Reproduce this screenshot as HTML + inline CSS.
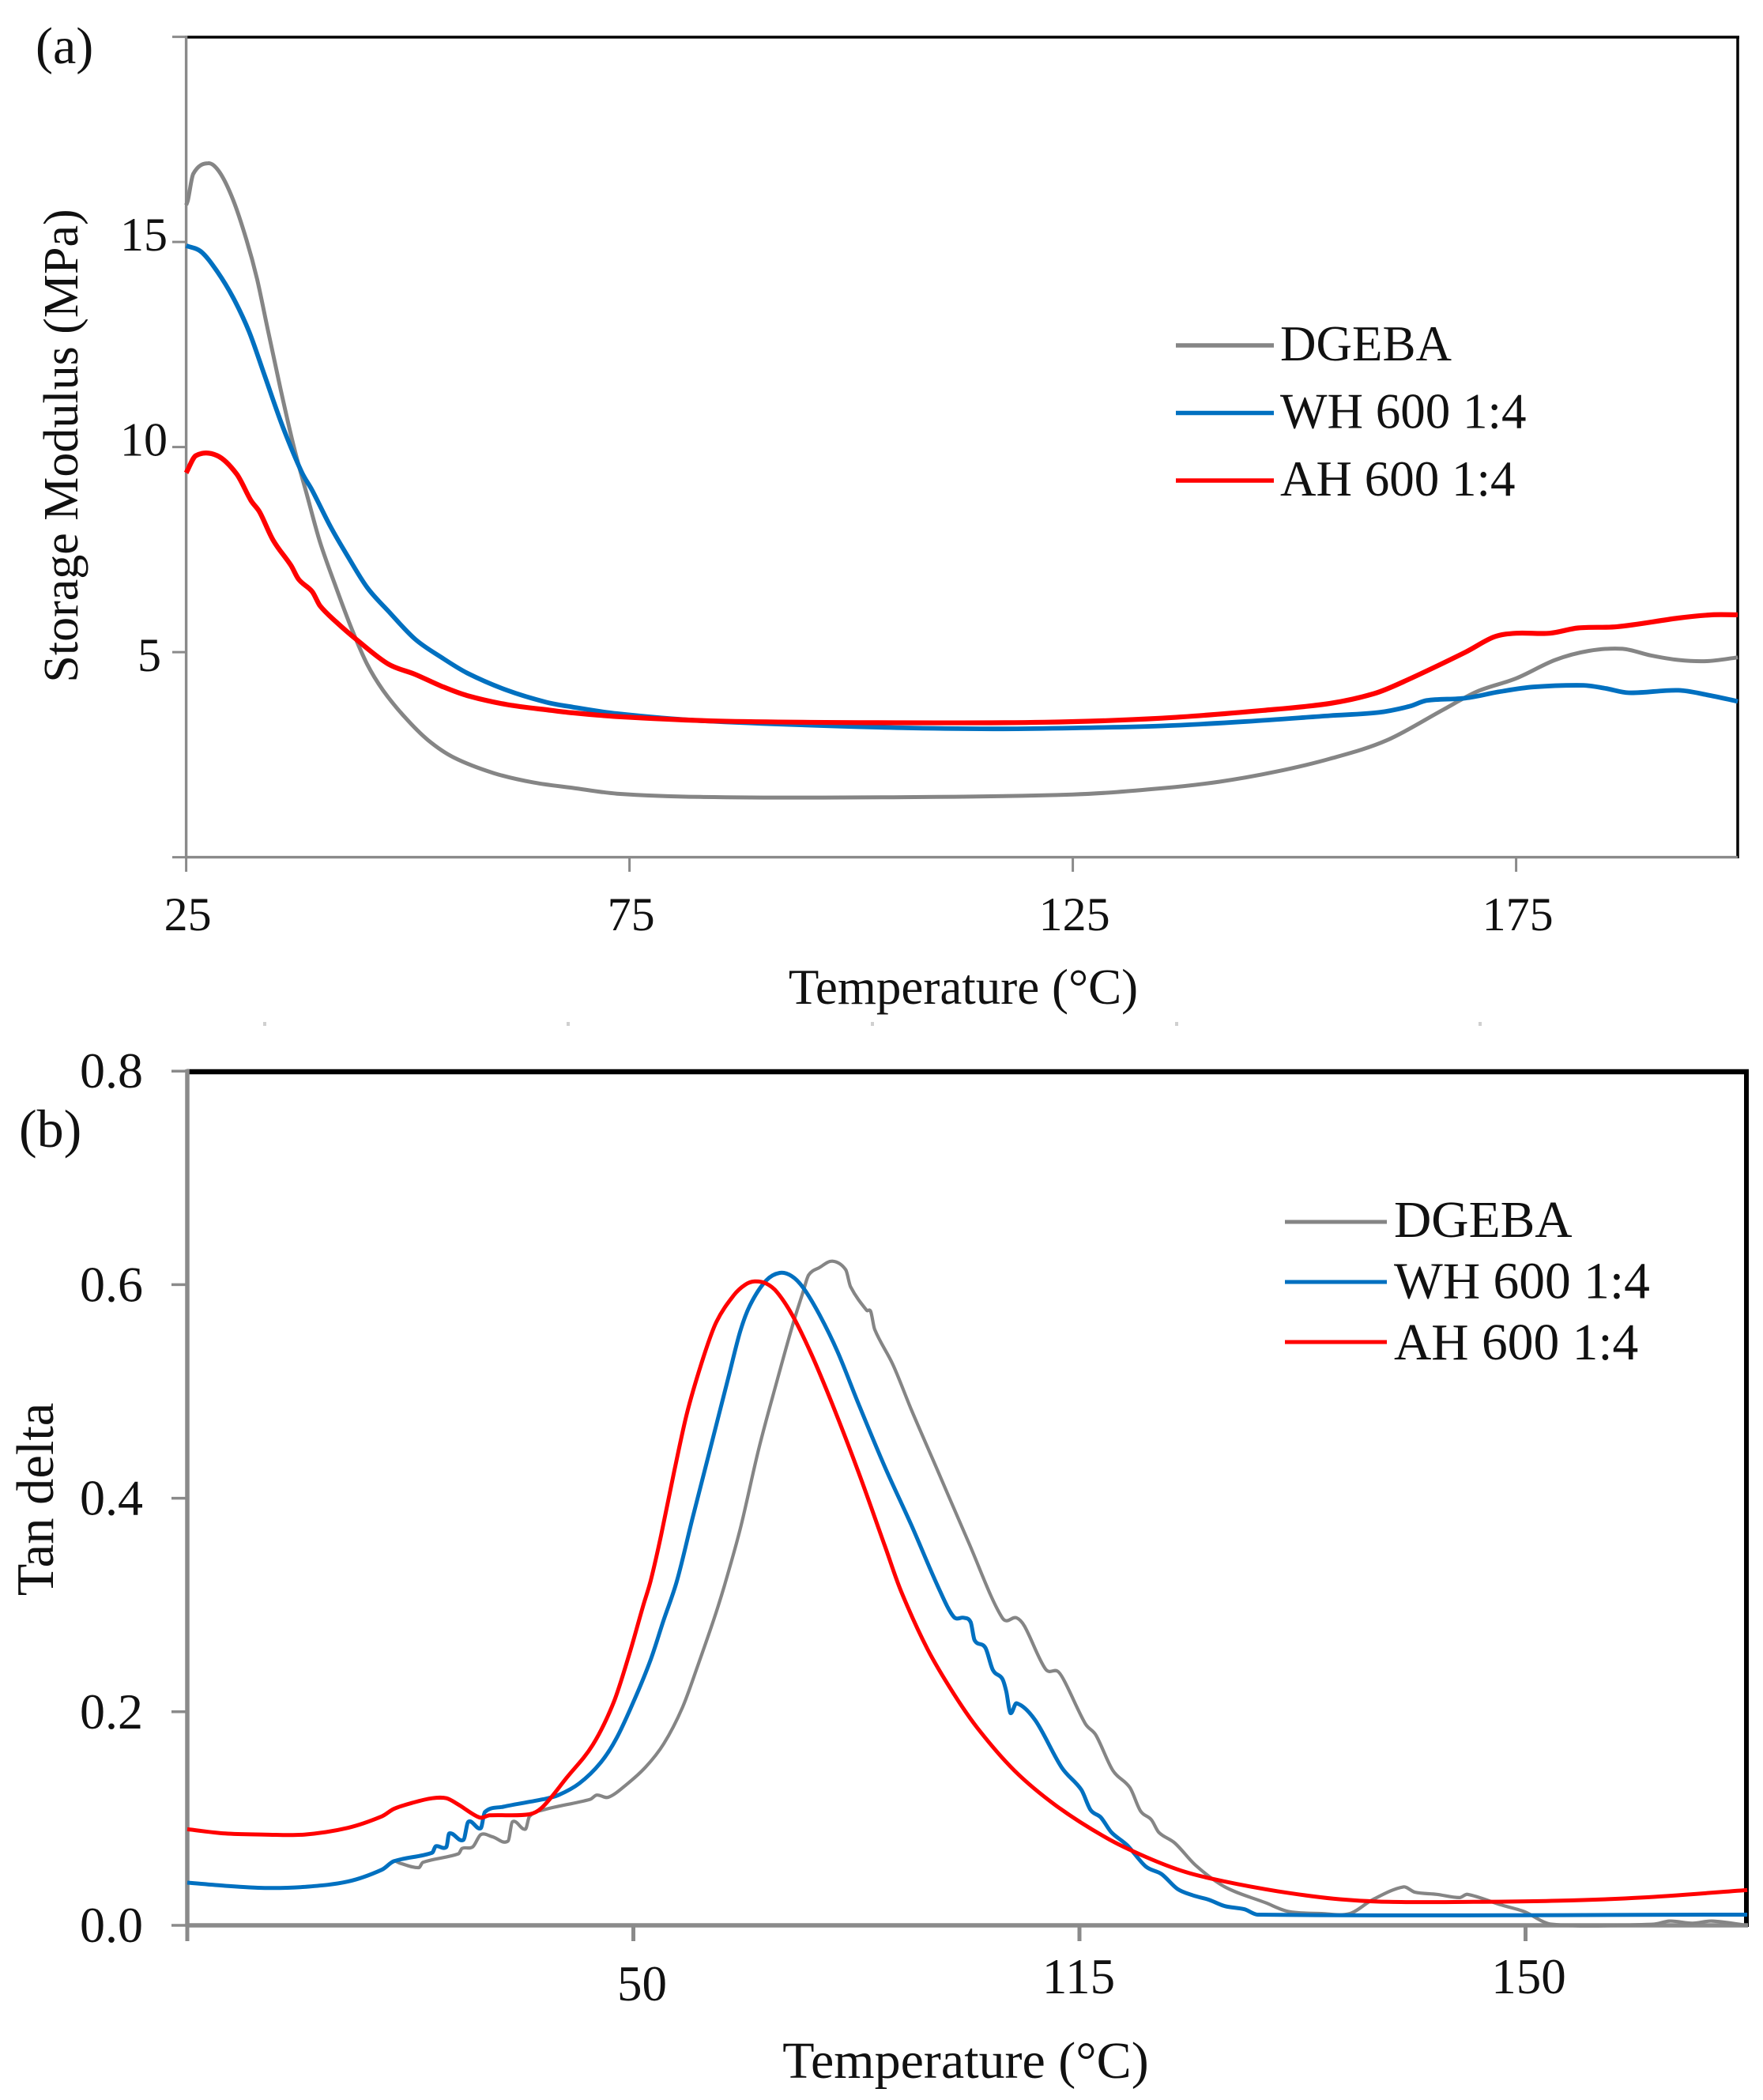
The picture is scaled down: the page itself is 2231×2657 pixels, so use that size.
<!DOCTYPE html>
<html lang="en">
<head>
<meta charset="utf-8">
<title>Storage modulus and tan delta vs temperature</title>
<style>
html,body{margin:0;padding:0;background:#fff;width:2231px;height:2657px;overflow:hidden}
svg{display:block}
text{font-family:"Liberation Serif",serif;fill:#111}
</style>
</head>
<body>
<svg id="figure" xmlns="http://www.w3.org/2000/svg" width="2231" height="2657" viewBox="0 0 2231 2657">
  <g id="panel-a"></g>
  <g id="panel-b"></g>
</svg>
<script>
/* Panel (a): storage modulus */
const aGreyT = [25,25.2,25.8,27.5,28.8,30.3,31.8,33,34.2,35.6,37.1,38.6,40.1,41.9,43.7,45.4,47.2,49.6,52.3,55.2,59.7,64.2,68.6,73.6,83,103.5,125,135,141.5,147.8,154,160.4,166.8,170.6,175,179.4,183.2,187,190.2,193.3,196.5,200];
const aGreyV = [15.9,16.02,16.66,16.92,16.69,16.02,15.05,14.09,12.87,11.46,10.04,8.85,7.68,6.58,5.55,4.71,4.07,3.43,2.85,2.43,2.05,1.82,1.69,1.55,1.47,1.46,1.53,1.68,1.84,2.08,2.4,2.85,3.6,4.04,4.36,4.81,5.03,5.08,4.92,4.81,4.78,4.87];
const aBlueT = [25,26.7,28.5,30.3,32.1,33.9,35.9,38,39.2,41.3,43.1,45.4,47.8,50.8,53.8,56.7,61.2,65.6,68.6,73.6,83,103,116,125,135,144.6,154,159.5,163,164.9,169.3,173,176.9,182.6,185,187.7,193.3,196.5,200];
const aBlueV = [14.91,14.76,14.28,13.64,12.81,11.71,10.49,9.4,8.95,8.05,7.38,6.58,6,5.32,4.87,4.49,4.07,3.78,3.66,3.5,3.33,3.17,3.13,3.15,3.2,3.31,3.45,3.53,3.68,3.82,3.88,4.03,4.15,4.19,4.12,4.01,4.07,3.96,3.8];
const aRedT = [25,26.1,28.5,30.7,32.3,33.3,34.8,36.8,37.7,39.2,40.1,41.9,44.3,47.8,50.8,53.8,56.7,61.2,66.2,68.6,73.6,85,103,121.8,135,146.5,154,159,162.3,169.3,172.5,175,178.8,182,186.4,193.3,197.1,200];
const aRedV = [9.37,9.79,9.79,9.34,8.7,8.41,7.73,7.12,6.77,6.48,6.13,5.74,5.29,4.71,4.46,4.17,3.94,3.72,3.58,3.52,3.43,3.32,3.28,3.29,3.39,3.58,3.75,3.99,4.28,5,5.37,5.46,5.46,5.59,5.62,5.83,5.91,5.91];
const aXTicks = [25,75,125,175];
const aYTicks = [5,10,15];
const aYMarks = [0,5,10,15,20];

/* Panel (b): tan delta. X is the axis slot (0 = left edge, 1 = "50", 2 = "115", 3 = "150"), as the printed labels are unevenly spaced */
const bGreyX = [0,0.085,0.174,0.262,0.36,0.436,0.463,0.478,0.519,0.528,0.608,0.616,0.64,0.658,0.684,0.719,0.729,0.758,0.767,0.797,0.903,0.918,0.944,0.985,1.027,1.068,1.11,1.145,1.18,1.204,1.24,1.281,1.322,1.357,1.381,1.393,1.417,1.446,1.476,1.487,1.523,1.532,1.541,1.582,1.623,1.682,1.75,1.827,1.859,1.877,1.924,1.951,1.966,2.013,2.037,2.075,2.113,2.137,2.161,2.178,2.214,2.261,2.326,2.418,2.468,2.543,2.606,2.657,2.726,2.752,2.801,2.852,2.87,2.946,2.996,3.059,3.285,3.323,3.374,3.418,3.497];
const bGreyV = [0.04,0.037,0.035,0.036,0.041,0.052,0.06,0.058,0.054,0.059,0.067,0.072,0.0735,0.085,0.083,0.079,0.097,0.09,0.102,0.108,0.118,0.122,0.12,0.132,0.148,0.17,0.204,0.244,0.286,0.318,0.372,0.446,0.51,0.562,0.594,0.609,0.616,0.622,0.614,0.598,0.576,0.575,0.558,0.525,0.483,0.426,0.36,0.288,0.288,0.28,0.24,0.238,0.229,0.189,0.178,0.145,0.129,0.107,0.099,0.087,0.077,0.056,0.036,0.021,0.013,0.011,0.011,0.024,0.036,0.031,0.029,0.026,0.029,0.019,0.013,0.001,0.001,0.004,0.002,0.004,0];
const bBlueX = [0,0.085,0.174,0.262,0.36,0.436,0.463,0.549,0.557,0.581,0.587,0.619,0.63,0.658,0.667,0.708,0.797,0.832,0.879,0.926,0.962,1.003,1.039,1.068,1.098,1.133,1.174,1.216,1.24,1.263,1.298,1.328,1.355,1.381,1.417,1.458,1.505,1.564,1.623,1.682,1.718,1.741,1.756,1.765,1.789,1.806,1.827,1.836,1.845,1.859,1.901,1.96,2.004,2.025,2.048,2.072,2.107,2.149,2.184,2.22,2.255,2.29,2.326,2.37,2.4,3.497];
const bBlueV = [0.04,0.037,0.035,0.036,0.041,0.052,0.06,0.068,0.074,0.0735,0.086,0.08,0.097,0.091,0.106,0.111,0.118,0.122,0.133,0.152,0.175,0.212,0.249,0.286,0.323,0.382,0.449,0.518,0.557,0.582,0.604,0.611,0.608,0.597,0.572,0.537,0.488,0.429,0.375,0.318,0.289,0.288,0.284,0.267,0.26,0.239,0.231,0.219,0.199,0.208,0.192,0.148,0.127,0.108,0.101,0.087,0.075,0.055,0.048,0.034,0.028,0.024,0.018,0.015,0.01,0.01];
const bRedX = [0,0.085,0.174,0.262,0.36,0.436,0.463,0.507,0.549,0.581,0.608,0.655,0.678,0.767,0.797,0.85,0.909,0.956,0.991,1.021,1.039,1.062,1.092,1.121,1.157,1.186,1.225,1.251,1.272,1.298,1.322,1.357,1.399,1.446,1.505,1.564,1.6,1.659,1.718,1.771,1.854,1.948,2.06,2.149,2.237,2.326,2.443,2.569,2.694,2.883,3.072,3.26,3.497];
const bRedV = [0.09,0.086,0.085,0.085,0.0913,0.102,0.109,0.115,0.119,0.119,0.113,0.101,0.103,0.104,0.111,0.138,0.169,0.209,0.254,0.298,0.323,0.365,0.426,0.481,0.532,0.565,0.59,0.6,0.603,0.601,0.593,0.571,0.535,0.488,0.424,0.355,0.313,0.259,0.217,0.185,0.145,0.112,0.082,0.064,0.05,0.041,0.032,0.025,0.022,0.022,0.023,0.026,0.033];
const bXSlots = [0,1,2,3];
const bXLabels = ["","50","115","150"];
const bYTicks = [0,0.2,0.4,0.6,0.8];

const legendNames = ["DGEBA","WH 600 1:4","AH 600 1:4"];
const seriesColors = ["#858585","#0070c0","#ff0000"];

const NS = "http://www.w3.org/2000/svg";
function mk(parent, tag, attrs, txt){
  const el = document.createElementNS(NS, tag);
  for (const k in attrs) el.setAttribute(k, attrs[k]);
  if (txt !== undefined) el.textContent = txt;
  parent.appendChild(el);
  return el;
}
/* smooth curve through the data points using finite-difference slopes */
function pathFrom(xs, ys, fx, fy){
  const X = xs.map(fx), Y = ys.map(fy), n = X.length;
  const slope = i => {
    const a = Math.max(i - 1, 0), b = Math.min(i + 1, n - 1);
    return (Y[b] - Y[a]) / (X[b] - X[a]);
  };
  let d = "M" + X[0].toFixed(1) + " " + Y[0].toFixed(1);
  for (let i = 0; i < n - 1; i++) {
    const h = (X[i + 1] - X[i]) / 3;
    d += "C" + (X[i] + h).toFixed(1) + " " + (Y[i] + slope(i) * h).toFixed(1) + " " +
         (X[i + 1] - h).toFixed(1) + " " + (Y[i + 1] - slope(i + 1) * h).toFixed(1) + " " +
         X[i + 1].toFixed(1) + " " + Y[i + 1].toFixed(1);
  }
  return d;
}

/* ---------- panel a ---------- */
const pa = document.getElementById("panel-a");
const ax = t => 235.6 + (t - 25) * 11.22;
const ay = v => 1084.6 - v * 51.9;

let el;
el = mk(pa, "line", {x1:234,y1:47,x2:2201,y2:47,stroke:"#000","stroke-width":3.5});


el = mk(pa, "line", {x1:2199,y1:47,x2:2199,y2:1086,stroke:"#000","stroke-width":3.5});


el = mk(pa, "line", {x1:235.6,y1:45,x2:235.6,y2:1086,stroke:"#8a8a8a","stroke-width":3.4});


el = mk(pa, "line", {x1:234,y1:1084.6,x2:2199,y2:1084.6,stroke:"#8a8a8a","stroke-width":3.4});



aYMarks.forEach(v => {
  const t = mk(pa, "line", {x1:218,y1:ay(v),x2:235,y2:ay(v),stroke:"#8a8a8a","stroke-width":3});
  
  
});
aYTicks.forEach(v => {
  const t = mk(pa, "text", {x: v === 5 ? 204 : 212, y: ay(v) + (v === 5 ? 24 : 11), "text-anchor":"end","font-size":60}, String(v));
  
  
});
aXTicks.forEach(v => {
  const m = mk(pa, "line", {x1:ax(v),y1:1085,x2:ax(v),y2:1103,stroke:"#8a8a8a","stroke-width":3});
  
  
  const t = mk(pa, "text", {x:ax(v)+2,y:1177,"text-anchor":"middle","font-size":60}, String(v));
  
  
});

[[aGreyT,aGreyV],[aBlueT,aBlueV],[aRedT,aRedV]].forEach((s, i) => {
  const p = mk(pa, "path", {d:pathFrom(s[0], s[1], ax, ay),fill:"none",stroke:seriesColors[i],"stroke-width":[5,5.8,6.2][i],"stroke-linejoin":"round","stroke-linecap":"butt"});
  
  
});

el = mk(pa, "text", {x:45,y:80,"font-size":66}, "(a)");


el = mk(pa, "text", {x:0,y:0,"font-size":62,"text-anchor":"middle",transform:"translate(98 564) rotate(-90)"}, "Storage Modulus (MPa)");


el = mk(pa, "text", {x:1219,y:1270,"font-size":63,"text-anchor":"middle"}, "Temperature (°C)");



legendNames.forEach((name, i) => {
  const ly = 437 + i * 85.5;
  const l = mk(pa, "line", {x1:1488,y1:ly,x2:1612,y2:ly,stroke:seriesColors[i],"stroke-width":5.5});
  
  
  const t = mk(pa, "text", {x:1620,y:ly+19,"font-size":63}, name);
  
  
});

[335,719,1104,1489,1873].forEach(x => {
  const s = mk(pa, "rect", {x:x-2,y:1293,width:4,height:5,fill:"#d0d0d0"});
  
  
});

/* ---------- panel b ---------- */
const pb = document.getElementById("panel-b");
const bx = u => 237 + u * 564.5;
const by = v => 2436 - v * 1351;

el = mk(pb, "line", {x1:236,y1:1356,x2:2213,y2:1356,stroke:"#000","stroke-width":6.5});


el = mk(pb, "line", {x1:2210,y1:1354,x2:2210,y2:2438,stroke:"#000","stroke-width":6});


el = mk(pb, "line", {x1:237,y1:1353,x2:237,y2:2438,stroke:"#8a8a8a","stroke-width":5.5});


el = mk(pb, "line", {x1:235,y1:2436,x2:2212,y2:2436,stroke:"#8a8a8a","stroke-width":5.5});



bYTicks.forEach(v => {
  const m = mk(pb, "line", {x1:217,y1:by(v),x2:236,y2:by(v),stroke:"#8a8a8a","stroke-width":3.5});
  
  
  const t = mk(pb, "text", {x:181,y:by(v)+21,"text-anchor":"end","font-size":64}, v.toFixed(1));
  
  
});
bXSlots.forEach((u, i) => {
  const m = mk(pb, "line", {x1:bx(u),y1:2436,x2:bx(u),y2:2456,stroke:"#8a8a8a","stroke-width":5});
  
  
  if (bXLabels[i]) {
    const t = mk(pb, "text", {x:bx(u)+(i === 1 ? 11 : i === 2 ? -1 : 4),y:i === 1 ? 2531 : 2522,"text-anchor":"middle","font-size":63}, bXLabels[i]);
    
    
  }
});

[[bGreyX,bGreyV],[bBlueX,bBlueV],[bRedX,bRedV]].forEach((s, i) => {
  const p = mk(pb, "path", {d:pathFrom(s[0], s[1], bx, by),fill:"none",stroke:seriesColors[i],"stroke-width":[4.2,5,5][i],"stroke-linejoin":"round"});
  
  
});

el = mk(pb, "text", {x:24,y:1451,"font-size":68}, "(b)");


el = mk(pb, "text", {x:0,y:0,"font-size":66.5,"text-anchor":"middle",transform:"translate(67 1897) rotate(-90)"}, "Tan delta");


el = mk(pb, "text", {x:1222,y:2629,"font-size":66,"text-anchor":"middle"}, "Temperature (°C)");



legendNames.forEach((name, i) => {
  const ly = 1546 + i * 76;
  const l = mk(pb, "line", {x1:1626,y1:ly,x2:1755,y2:ly,stroke:seriesColors[i],"stroke-width":5});
  
  
  const t = mk(pb, "text", {x:1764,y:ly+19+i*1.5,"font-size":65.5}, name);
  
  
});
</script>
</body>
</html>
